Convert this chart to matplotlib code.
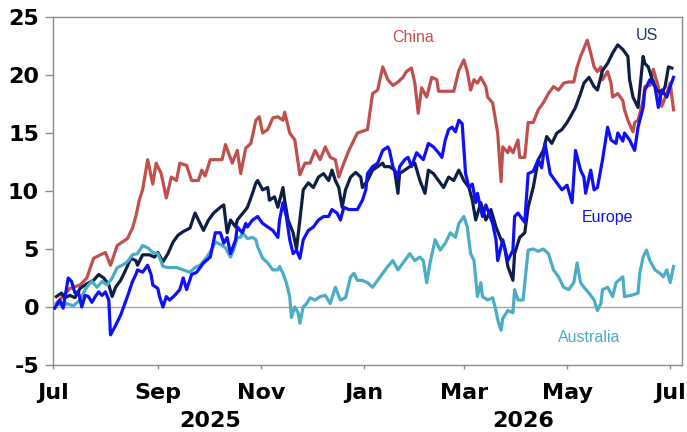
import matplotlib
matplotlib.use('Agg')
import matplotlib.pyplot as plt
import matplotlib.transforms as mtransforms
import pandas as pd

plt.rcParams['font.family'] = ['Liberation Sans', 'DejaVu Sans']

start = pd.Timestamp('2025-07-01')

# ---- data: days since 1 Jul 2025, and % change ----
china_day = [2, 10, 16, 20, 24, 28, 31, 34, 38, 44, 47, 49, 51, 53, 56, 59, 61, 64, 67, 70, 73, 75,
             79, 82, 86, 88, 90, 93, 100, 102, 106, 109, 111, 114, 117, 120, 122, 124, 127, 130, 133,
             136, 137, 140, 143, 146, 149, 152, 155, 158, 161, 164, 167, 169, 172, 175, 180, 186, 189,
             192, 195, 198, 201, 204, 207, 209, 212, 214, 216, 218, 221, 224, 227, 228, 237, 240, 243,
             245, 247, 249, 251, 253, 256, 257, 260, 263, 265, 266, 269, 270, 272, 275, 276, 279, 281,
             284, 287, 290, 293, 296, 299, 302, 305, 308, 310, 312, 314, 316, 318, 320, 322, 324, 325,
             328, 330, 331, 334, 337, 338, 340, 343, 344, 346, 349, 350, 353, 355, 358, 360, 363, 365, 367]
china_val = [0.3, 1.6, 1.9, 2.5, 4.2, 4.5, 4.7, 3.6, 5.3, 5.9, 6.8, 7.8, 9.2, 10.1, 12.7, 10.6, 12.4,
             11.5, 9.4, 11.2, 10.9, 12.4, 12.2, 10.9, 10.9, 11.8, 11.3, 12.7, 12.7, 14.0, 12.4, 13.5,
             11.5, 13.7, 14.1, 16.1, 16.4, 15.0, 15.3, 16.3, 16.4, 16.1, 16.8, 15.0, 14.4, 11.4, 12.4,
             12.4, 13.5, 12.7, 13.8, 12.9, 12.7, 11.2, 12.4, 13.5, 15.0, 15.3, 18.4, 18.7, 20.7, 19.6,
             19.1, 19.4, 19.8, 20.3, 20.6, 19.3, 16.7, 18.9, 18.1, 19.8, 19.6, 18.6, 18.6, 20.4, 21.3,
             20.3, 18.7, 19.6, 19.3, 19.8, 19.0, 18.1, 17.6, 15.0, 10.8, 13.8, 13.3, 13.8, 13.3, 14.4,
             12.9, 12.9, 15.9, 15.9, 17.0, 17.6, 18.4, 19.0, 18.7, 19.3, 19.4, 19.4, 20.7, 21.6, 22.3,
             23.0, 21.9, 20.7, 20.3, 20.7, 19.6, 20.3, 19.3, 18.1, 18.4, 17.8, 17.0, 16.1, 15.1, 15.9,
             16.1, 17.8, 19.0, 19.1, 20.5, 19.0, 17.3, 18.4, 19.3, 17.0]

us_day = [2, 5, 7, 10, 13, 16, 20, 24, 27, 30, 33, 35, 37, 40, 43, 46, 49, 50, 53, 57, 60, 62, 65, 68,
          71, 74, 77, 81, 84, 86, 89, 92, 95, 99, 101, 103, 105, 108, 109, 114, 115, 118, 120, 121, 124,
          127, 128, 131, 133, 136, 137, 139, 142, 144, 146, 148, 151, 154, 157, 160, 163, 165, 167, 169,
          171, 173, 176, 179, 182, 183, 186, 189, 192, 195, 196, 199, 202, 204, 205, 208, 211, 214, 217,
          220, 222, 225, 228, 231, 234, 237, 240, 243, 246, 248, 250, 253, 256, 259, 262, 265, 267, 269,
          272, 273, 276, 279, 281, 284, 287, 290, 292, 295, 298, 301, 304, 306, 309, 312, 314, 317, 320,
          322, 325, 328, 331, 334, 337, 340, 341, 343, 346, 349, 350, 352, 354, 357, 360, 362, 364, 366]
us_val = [0.9, 1.2, 0.8, 1.0, 0.8, 1.6, 2.0, 2.3, 2.8, 2.5, 1.9, 0.9, 1.7, 2.3, 3.2, 4.2, 4.0, 3.6, 4.5,
          4.5, 4.3, 4.7, 3.9, 4.6, 5.6, 6.2, 6.5, 6.8, 8.1, 7.5, 6.6, 7.5, 8.1, 8.6, 8.8, 6.4, 7.5, 6.9,
          7.5, 8.4, 8.6, 9.8, 10.7, 10.9, 10.1, 10.3, 9.2, 9.5, 8.6, 10.3, 9.2, 7.5, 6.4, 5.0, 7.5, 10.1,
          10.7, 10.3, 11.2, 11.5, 10.9, 11.8, 10.9, 10.3, 8.6, 10.1, 11.2, 11.6, 11.2, 10.3, 10.9, 11.8,
          12.1, 12.4, 12.1, 12.1, 11.8, 9.8, 11.5, 11.8, 12.1, 12.4, 10.9, 9.8, 11.8, 11.5, 10.9, 10.3,
          11.2, 10.9, 11.8, 10.9, 10.3, 9.2, 7.5, 9.0, 7.5, 8.4, 6.9, 5.8, 5.2, 3.5, 2.3, 4.6, 6.0, 6.4,
          8.6, 10.3, 12.7, 13.5, 14.7, 14.1, 15.0, 15.3, 15.9, 16.4, 17.2, 18.4, 19.3, 19.8, 19.0, 18.7,
          20.4, 21.0, 21.9, 22.6, 22.2, 21.6, 19.6, 18.1, 17.2, 21.6, 21.0, 20.7, 19.8, 18.7, 18.4, 19.0,
          20.7, 20.6]

europe_day = [1, 4, 6, 9, 11, 13, 15, 17, 19, 21, 23, 25, 27, 29, 31, 33, 34, 37, 40, 44, 47, 49, 50,
              53, 56, 58, 59, 62, 63, 65, 67, 69, 72, 75, 77, 79, 82, 85,
              89, 93, 96, 99, 101, 103, 105, 108, 109, 112,
              114, 115, 118, 121, 124, 127, 130, 133, 134, 136, 138, 140, 142, 144, 146, 148, 151, 154,
              157, 160, 163, 165, 168, 170, 172, 175, 180, 183, 185, 186, 189, 192, 195, 198, 199, 201,
              204, 205, 208, 210, 212, 215, 219, 222, 225, 228, 230, 232, 234, 236, 238, 240, 242, 244,
              246, 248, 250, 251, 254, 256, 257, 260, 262, 263, 266, 267, 269, 272, 273, 275, 278, 279,
              281, 284, 287, 289, 291, 294, 298, 301, 304, 307, 309, 312, 314, 315, 318, 320, 322, 325,
              328, 330, 333, 334, 337, 338, 341, 344, 346, 349, 350, 353, 356, 358, 360, 363, 365, 367]
europe_val = [-0.1, 0.6, -0.1, 2.5, 2.2, 1.2, 1.3, 0.0, 1.0, 0.9, 0.4, 0.9, 1.3, 1.0, 1.3, 0.6, -2.4,
              -1.6, -0.7, 0.9, 2.2, 2.8, 3.2, 3.0, 3.6, 2.8, 1.9, 1.6, 0.9, 0.0, 0.9, 0.6, 1.0, 1.5,
              2.5, 1.5, 2.8, 3.0,
              3.8, 4.3, 6.4, 6.4, 5.5, 6.0, 4.6, 5.8, 6.9, 6.4, 7.2, 6.9, 7.5, 7.8, 7.2, 6.9, 6.6, 6.0, 7.5,
              9.0, 7.8, 5.8, 4.6, 4.9, 4.2, 5.8, 6.6, 6.9, 7.5, 7.8, 7.8, 8.4, 8.1, 7.5, 8.6, 8.4, 8.4,
              9.2, 10.1, 11.5, 12.1, 12.4, 13.5, 13.8, 13.5, 12.1, 11.2, 12.1, 12.7, 12.9, 12.1, 13.3,
              12.7, 14.1, 13.8, 13.3, 12.9, 14.4, 15.3, 15.5, 15.1, 16.1, 15.8, 11.5, 10.3, 10.6, 9.0,
              9.8, 7.8, 8.8, 8.4, 7.2, 5.8, 4.0, 5.8, 5.2, 4.0, 4.9, 7.8, 8.1, 7.5, 7.3, 11.5, 11.7,
              12.7, 12.0, 14.1, 11.5, 10.7, 10.1, 10.5, 9.0, 13.5, 11.8, 11.2, 9.8, 11.8, 10.1, 10.3,
              12.7, 15.5, 14.4, 14.1, 15.0, 14.3, 15.0, 14.4, 13.5, 15.5, 17.2, 18.7, 19.6, 19.0, 17.2,
              18.7, 18.1, 19.0, 19.8]

australia_day = [2, 6, 8, 12, 16, 19, 21, 23, 26, 29, 32, 35, 38, 41, 44, 47, 50, 53, 56, 59, 62, 64,
                 65, 68, 70, 73, 77, 81, 84,
                 87, 91, 94, 96, 99, 102, 105, 107, 109, 111, 112, 115, 118,
                 120, 121, 124, 127, 130, 133, 134, 136, 138, 140, 141, 143, 145, 146, 148, 150, 152,
                 155, 158, 161, 164, 167, 170, 173, 176, 178, 180, 183, 186, 189, 192, 195, 198, 201,
                 204, 207, 211, 214, 217, 219, 221, 223, 226, 229, 232, 235, 238, 240, 243, 245, 247,
                 249, 251, 253, 254, 257, 260, 262, 263, 265, 266, 269, 272, 273, 275, 278, 281, 284,
                 287, 290, 293, 296, 299, 302, 305, 308, 310, 312, 314, 317, 320, 322, 324, 325, 328,
                 331, 333, 337, 338, 342, 346, 347, 349, 351, 353, 356, 359, 361, 363, 365, 367]
australia_val = [0.3, 0.1, 0.3, 0.1, 0.6, 1.5, 1.9, 2.2, 1.7, 2.2, 1.9, 2.5, 3.4, 3.6, 3.9, 4.5, 4.6,
                 5.3, 5.1, 4.7, 4.6, 3.9, 3.5, 3.4, 3.4, 3.4, 3.2, 3.0, 3.4,
                 3.6, 4.3, 5.0, 5.6, 5.4, 5.1,
                 4.3, 5.0, 6.0, 6.0, 6.4, 5.9, 6.0, 5.8, 5.2, 4.2, 3.8, 3.2, 3.2, 3.5, 2.9, 2.1, 0.9,
                 -0.9, 0.0, -0.5, -1.4, 0.0, 0.3, 0.8, 0.6, 0.9, 1.0, 0.3, 1.7, 0.6, 0.8, 2.6, 2.9, 2.3,
                 2.3, 2.1, 1.7, 2.3, 2.9, 3.5, 4.0, 3.2, 3.8, 4.6, 4.0, 4.3, 4.0, 2.1, 3.8, 5.8, 4.9,
                 5.5, 6.4, 6.0, 7.2, 7.8, 6.9, 4.6, 4.0, 0.9, 2.1, 0.9, 0.6, 0.8, -0.3, -1.1, -2.0,
                 -1.0, -0.3, -0.5, 1.5, 0.6, 0.6, 4.9, 5.0, 4.8, 5.0, 4.6, 3.2, 2.6, 1.7, 1.5, 2.1, 3.8,
                 2.1, 1.7, 1.2, 0.6, -0.3, 0.3, 1.5, 1.7, 0.9, 2.1, 2.6, 0.9, 1.0, 1.2, 2.9, 4.3, 4.9,
                 4.0, 3.2, 2.9, 2.6, 3.2, 2.1, 3.5]

tick_dates = ['2025-07-01', '2025-09-01', '2025-11-01', '2026-01-01', '2026-03-01', '2026-05-01', '2026-07-01']
tick_labels = ['Jul', 'Sep', 'Nov', 'Jan', 'Mar', 'May', 'Jul']
year_dates = ['2025-10-02', '2026-04-05']
year_labels = ['2025', '2026']
y_ticks = [-5, 0, 5, 10, 15, 20, 25]


def to_dates(days):
    return start + pd.to_timedelta(days, unit='D')


fig = plt.figure(figsize=(6.87, 4.32), dpi=100)
ax = fig.add_axes([53 / 687, 1 - 365 / 432, (682 - 53) / 687, (365 - 17) / 432])

ax.axhline(0, color='#a6a6a6', lw=1.0, zorder=1)

ax.plot(to_dates(china_day), china_val, color='#C0504D', lw=2.3, zorder=3)
ax.plot(to_dates(us_day), us_val, color='#0F1E45', lw=2.3, zorder=4)
ax.plot(to_dates(australia_day), australia_val, color='#4BACC6', lw=2.3, zorder=5)
ax.plot(to_dates(europe_day), europe_val, color='#1010F8', lw=2.3, zorder=6)

tick_font = dict(fontsize=16, fontweight='bold', family='DejaVu Sans')
ax.set_ylim(-5, 25)
ax.set_xlim(pd.Timestamp('2025-07-01'), pd.Timestamp('2026-07-08'))
ax.set_yticks(y_ticks)
ax.set_yticklabels([str(v) for v in y_ticks], **tick_font)
ax.set_xticks(pd.to_datetime(tick_dates))
ax.set_xticklabels(tick_labels, **tick_font)

for s in ax.spines.values():
    s.set_color('#8c8c8c')
    s.set_linewidth(1.0)
ax.tick_params(axis='y', direction='out', length=6, width=1, color='#8c8c8c', pad=4)
ax.tick_params(axis='x', direction='out', length=3, width=1, color='#8c8c8c', pad=10)

trans = mtransforms.blended_transform_factory(ax.transData, ax.transAxes)
for d, lab in zip(year_dates, year_labels):
    ax.text(pd.Timestamp(d), -0.162, lab, transform=trans, ha='center', va='center', **tick_font)

ax.text(pd.Timestamp('2026-01-30'), 23.2, 'China', color='#C0504D', fontsize=11.5, ha='center', va='center')
ax.text(pd.Timestamp('2026-06-17'), 23.4, 'US', color='#1F3864', fontsize=11.5, ha='center', va='center')
ax.text(pd.Timestamp('2026-05-25'), 7.7, 'Europe', color='#1010F8', fontsize=11.5, ha='center', va='center')
ax.text(pd.Timestamp('2026-05-14'), -2.6, 'Australia', color='#4BACC6', fontsize=11.5, ha='center', va='center')

fig.savefig('out.png', dpi=100)
